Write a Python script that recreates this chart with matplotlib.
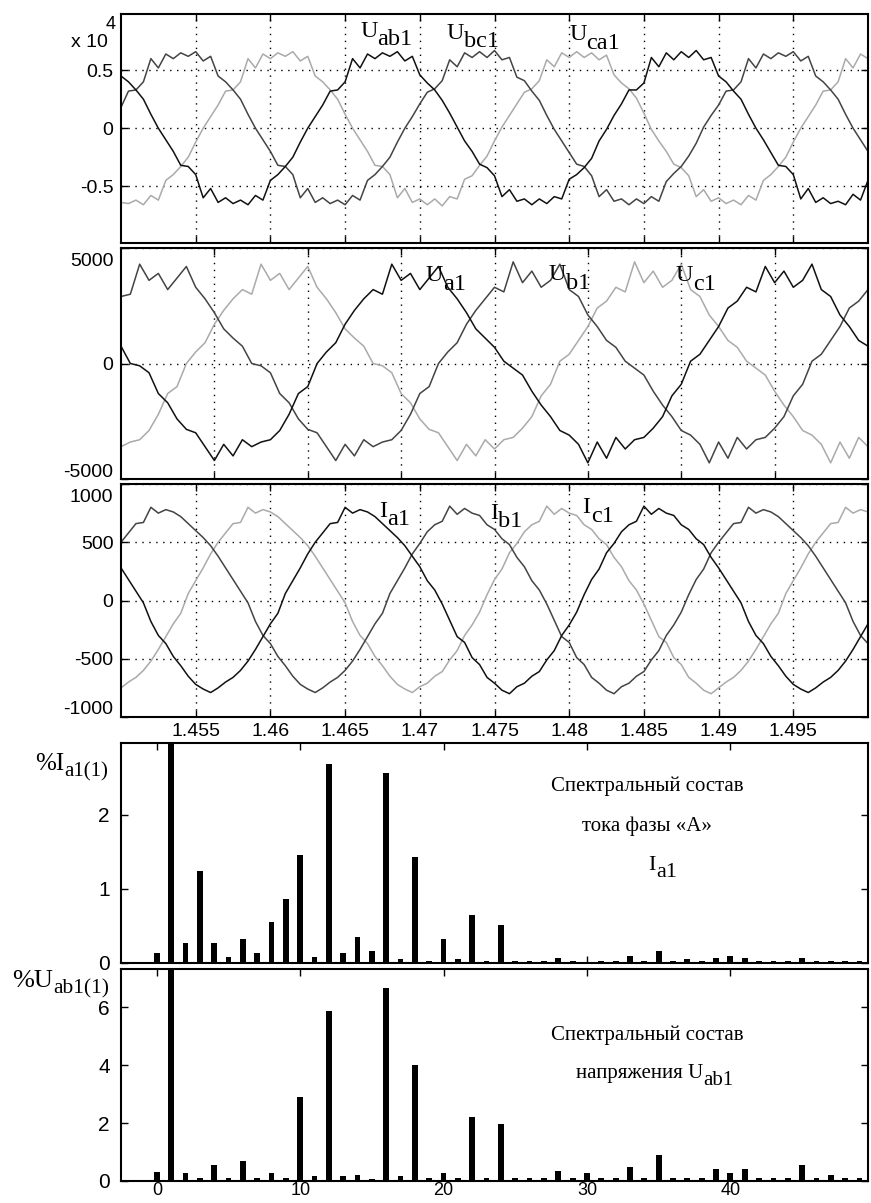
import numpy as np
import matplotlib
matplotlib.use('Agg')
import matplotlib.pyplot as plt
from matplotlib import transforms

SANS = 'Liberation Sans'
SERIF = 'Liberation Serif'
plt.rcParams['font.family'] = [SANS, 'DejaVu Sans']

# ---- data ----
# line voltages, V, sampled every 0.5 ms from 1.450 s
t_u = 1.45 + 0.0005 * np.arange(101)
u_ab = [4500, 4000, 3300, 2500, 1200, 0, -1000, -2000, -3200, -3300, -4000, -6000, -5200, -6400, -6000, -6500, -6200, -6600, -5800, -6200,
        -4500, -4000, -3300, -2500, -1200, 0, 1000, 2000, 3200, 3300, 4000, 6000, 5200, 6400, 6000, 6500, 6200, 6600, 5800, 6200,
        4600, 3900, 3300, 2400, 1300, 100, -1100, -2000, -3100, -3400, -4100, -5900, -5300, -6300, -6100, -6600, -6100, -6500, -5900, -6100,
        -4400, -4000, -3400, -2600, -1100, -100, 1100, 2100, 3300, 3300, 3900, 6100, 5300, 6500, 5900, 6600, 6100, 6700, 5900, 6100,
        4500, 4000, 3200, 2500, 1200, 0, -1000, -2100, -3200, -3300, -4000, -6100, -5200, -6400, -6000, -6500, -6300, -6600, -5700, -6200, -4500]
u_bc = [1800, 3200, 3300, 4000, 6000, 5200, 6400, 6000, 6500, 6200, 6600, 5800, 6200, 4500, 4000, 3300, 2500, 1200, 0, -1000,
        -2000, -3200, -3300, -4000, -6000, -5200, -6400, -6000, -6500, -6200, -6600, -5800, -6200, -4500, -4000, -3300, -2500, -1200, 0, 1000,
        2100, 3100, 3400, 4100, 5900, 5300, 6500, 6100, 6600, 6100, 6700, 5900, 6100, 4400, 4100, 3200, 2400, 1100, -100, -1100,
        -2100, -3100, -3300, -4100, -5900, -5300, -6300, -6100, -6600, -6100, -6500, -5900, -6300, -4600, -3900, -3300, -2400, -1300, 100, 1100,
        2000, 3200, 3300, 4000, 6000, 5200, 6400, 6000, 6500, 6200, 6600, 5800, 6200, 4500, 4000, 3300, 2500, 1200, 0, -1000, -2000]
u_ca = [-6400, -6500, -6200, -6600, -5800, -6200, -4500, -4000, -3300, -2500, -1200, 0, 1000, 2000, 3200, 3300, 4000, 6000, 5200, 6400,
        6000, 6500, 6200, 6600, 5800, 6200, 4500, 4000, 3300, 2500, 1200, 0, -1000, -2000, -3200, -3300, -4000, -6000, -5200, -6400,
        -6100, -6600, -6100, -6700, -5900, -6100, -4400, -4100, -3200, -2400, -1100, 100, 1100, 2100, 3100, 3400, 4100, 5900, 5300, 6500,
        6100, 6600, 6100, 6500, 5900, 6300, 4600, 3900, 3400, 2600, 1300, -100, -1100, -2000, -3100, -3400, -4100, -5900, -5300, -6300,
        -6000, -6500, -6200, -6600, -5800, -6200, -4500, -4000, -3300, -2500, -1200, 0, 1000, 2000, 3200, 3300, 4000, 6000, 5200, 6400, 6000]

# phase voltages, V, sampled every 0.5 ms over the 40 ms window of panel 2
t_ph = 1.46 + 0.0005 * np.arange(81)
u_a = [750, 0, -100, -400, -1300, -1700, -2400, -2850, -3000, -3600, -4200, -3500, -4000, -3300, -3600, -3400, -3300, -2900, -2200, -1300,
       -1000, 0, 500, 900, 1700, 2300, 2800, 3200, 3000, 4300, 3600, 3900, 3200, 3700, 4200, 3300, 2800, 2200, 1500, 1100,
       700, 100, -200, -500, -1200, -1800, -2300, -2900, -3100, -3500, -4300, -3400, -4100, -3200, -3700, -3300, -3200, -2800, -2300, -1400,
       -900, 100, 400, 1000, 1600, 2400, 2700, 3300, 3100, 4200, 3500, 4000, 3300, 3600, 4300, 3200, 2900, 2100, 1600, 1000, 750]
u_b = [2900, 3000, 4300, 3600, 3900, 3200, 3700, 4200, 3300, 2800, 2200, 1500, 1100, 750, 0, -100, -400, -1300, -1700, -2400,
       -2850, -3000, -3600, -4200, -3500, -4000, -3300, -3600, -3400, -3300, -2900, -2200, -1300, -1000, 0, 500, 900, 1700, 2300, 2800,
       3300, 3100, 4400, 3500, 4000, 3300, 3600, 4300, 3200, 2900, 2100, 1600, 1000, 700, 100, -200, -500, -1200, -1800, -2300,
       -2900, -3100, -3500, -4300, -3400, -4100, -3200, -3700, -3300, -3200, -2800, -2300, -1400, -900, 100, 400, 1000, 1600, 2400, 2700, 3200]
u_c = [-3600, -3400, -3300, -2900, -2200, -1300, -1000, 0, 500, 900, 1700, 2300, 2800, 3200, 3000, 4300, 3600, 3900, 3200, 3700,
       4200, 3300, 2800, 2200, 1500, 1100, 750, 0, -100, -400, -1300, -1700, -2400, -2850, -3000, -3600, -4200, -3500, -4000, -3300,
       -3700, -3300, -3200, -2800, -2300, -1400, -900, 100, 400, 1000, 1600, 2400, 2700, 3300, 3100, 4400, 3500, 4000, 3300, 3600,
       4300, 3200, 2900, 2100, 1600, 1000, 700, 100, -200, -500, -1200, -1800, -2300, -2900, -3100, -3500, -4300, -3400, -4100, -3200, -3600]

# phase currents, A, every 0.5 ms from 1.450 s
t_i = 1.45 + 0.0005 * np.arange(101)
i_a = [280, 180, 80, -20, -180, -300, -370, -480, -560, -650, -720, -760, -790, -750, -700, -660, -600, -520, -420, -310,
       -200, -110, 60, 170, 280, 400, 500, 580, 660, 670, 800, 750, 780, 760, 720, 660, 600, 540, 470, 380,
       290, 170, 90, -30, -170, -310, -360, -490, -550, -660, -710, -770, -800, -740, -710, -650, -610, -510, -430, -300,
       -210, -100, 50, 180, 270, 410, 490, 590, 650, 680, 810, 740, 790, 750, 730, 650, 610, 530, 480, 370,
       280, 180, 80, -20, -180, -300, -370, -480, -560, -650, -720, -760, -790, -750, -700, -660, -600, -520, -420, -310, -200]
i_b = [500, 580, 660, 670, 800, 750, 780, 760, 720, 660, 600, 540, 470, 380, 280, 180, 80, -20, -180, -300,
       -370, -480, -560, -650, -720, -760, -790, -750, -700, -660, -600, -520, -420, -310, -200, -110, 60, 170, 280, 400,
       490, 590, 650, 680, 810, 740, 790, 750, 730, 650, 610, 530, 480, 370, 290, 170, 90, -30, -170, -310,
       -360, -490, -550, -660, -710, -770, -800, -740, -710, -650, -610, -510, -430, -300, -210, -100, 50, 180, 270, 410,
       500, 580, 660, 670, 800, 750, 780, 760, 720, 660, 600, 540, 470, 380, 280, 180, 80, -20, -180, -300, -370]
i_c = [-750, -700, -660, -600, -520, -420, -310, -200, -110, 60, 170, 280, 400, 500, 580, 660, 670, 800, 750, 780,
       760, 720, 660, 600, 540, 470, 380, 280, 180, 80, -20, -180, -300, -370, -480, -560, -650, -720, -760, -790,
       -740, -710, -650, -610, -510, -430, -300, -210, -100, 50, 180, 270, 410, 490, 590, 650, 680, 810, 740, 790,
       750, 730, 650, 610, 530, 480, 370, 290, 170, 90, -30, -170, -310, -360, -490, -550, -660, -710, -770, -800,
       -750, -700, -660, -600, -520, -420, -310, -200, -110, 60, 170, 280, 400, 500, 580, 660, 670, 800, 750, 780, 760]

# spectra, % of fundamental, harmonics 0..49
harm = np.arange(50)
spec_ia = [0.13, 100, 0.27, 1.24, 0.27, 0.08, 0.32, 0.13, 0.56, 0.86, 1.46, 0.08, 2.69, 0.13, 0.35, 0.16, 2.56, 0.05, 1.43, 0.03,
           0.32, 0.05, 0.65, 0.03, 0.51, 0.03, 0.03, 0.03, 0.07, 0.03, 0.0, 0.03, 0.03, 0.10, 0.03, 0.16, 0.03, 0.05, 0.03, 0.07,
           0.10, 0.07, 0.03, 0.03, 0.03, 0.07, 0.03, 0.03, 0.03, 0.03]
spec_uab = [0.30, 100, 0.29, 0.09, 0.56, 0.09, 0.68, 0.09, 0.29, 0.09, 2.89, 0.16, 5.89, 0.16, 0.22, 0.06, 6.69, 0.16, 4.02, 0.09,
            0.29, 0.09, 2.22, 0.09, 1.96, 0.09, 0.09, 0.09, 0.36, 0.09, 0.29, 0.09, 0.09, 0.48, 0.09, 0.89, 0.09, 0.09, 0.09, 0.42,
            0.29, 0.42, 0.09, 0.09, 0.09, 0.56, 0.09, 0.22, 0.09, 0.09]

time_ticks = [1.455, 1.46, 1.465, 1.47, 1.475, 1.48, 1.485, 1.49, 1.495]
time_labels = ['1.455', '1.46', '1.465', '1.47', '1.475', '1.48', '1.485', '1.49', '1.495']
ph_ticks = [1.465, 1.47, 1.475, 1.48, 1.485, 1.49, 1.495]
harm_ticks = [0, 10, 20, 30, 40]

C_A, C_B, C_C = '#111111', '#444444', '#aaaaaa'

W, H = 871, 1203
fig = plt.figure(figsize=(W / 100, H / 100), dpi=100)


def box(top, bottom, left=121, right=868):
    return [left / W, 1 - bottom / H, (right - left) / W, (bottom - top) / H]


def frame(ax, size=14, ypad=5.5):
    for s in ax.spines.values():
        s.set_linewidth(1.5)
    ax.tick_params(direction='in', length=5, width=1, top=True, right=True,
                   labelsize=size, pad=4)
    ax.tick_params(axis='y', pad=ypad)


def grid(ax):
    ax.grid(True, color='k', linestyle=(0, (1, 4)), linewidth=1.0)


def sub_text(ax, x, y, main, sub, size=17.5, subsize=None, dy=-6, trans=None):
    subsize = subsize or size
    trans = trans or ax.transData
    t = ax.text(x, y, main, fontsize=size, family=SERIF, va='baseline', transform=trans)
    w = t.get_window_extent(fig.canvas.get_renderer()).width * 72 / fig.dpi
    off = transforms.offset_copy(trans, fig=fig, x=w, y=dy, units='points')
    ax.text(x, y, sub, fontsize=subsize, family=SERIF, va='baseline', transform=off)


def edge_label(ax, y, text, dy, size=14):
    ax.annotate(text, xy=(0, y), xycoords=ax.get_yaxis_transform(), xytext=(-5.5, dy),
                textcoords='offset points', ha='right', va='center', fontsize=size)


# ---- panel 1: line voltages ----
ax1 = fig.add_axes(box(14, 243))
ax1.plot(t_u, u_ca, color=C_C, lw=1.1)
ax1.plot(t_u, u_bc, color=C_B, lw=1.1)
ax1.plot(t_u, u_ab, color=C_A, lw=1.1)
ax1.set_xlim(1.45, 1.5)
ax1.set_ylim(-9900, 9850)
ax1.set_xticks(time_ticks)
ax1.set_xticklabels([])
ax1.set_yticks([-5000, 0, 5000])
ax1.set_yticklabels(['-0.5', '0', '0.5'])
frame(ax1)
grid(ax1)
fig.text(71 / W, 1 - 47 / H, 'x 10', fontsize=14, va='baseline')
fig.text(106 / W, 1 - 29 / H, '4', fontsize=13, va='baseline')
sub_text(ax1, 1.4660, 7870, 'U', 'ab1')
sub_text(ax1, 1.4718, 7730, 'U', 'bc1')
sub_text(ax1, 1.4800, 7590, 'U', 'ca1')

# ---- panel 2: phase voltages ----
ax2 = fig.add_axes(box(248, 479))
ax2.plot(t_ph, u_c, color=C_C, lw=1.1)
ax2.plot(t_ph, u_b, color=C_B, lw=1.1)
ax2.plot(t_ph, u_a, color=C_A, lw=1.1)
ax2.set_xlim(1.46, 1.5)
ax2.set_ylim(-5000, 5000)
ax2.set_xticks(ph_ticks)
ax2.set_xticklabels([])
ax2.set_yticks([-5000, 0, 5000])
ax2.set_yticklabels(['', '0', ''])
frame(ax2)
grid(ax2)
edge_label(ax2, 5000, '5000', -9.5)
edge_label(ax2, -5000, '-5000', 4.5)
sub_text(ax2, 1.4763, 3560, 'U', 'a1')
sub_text(ax2, 1.4829, 3600, 'U', 'b1')
sub_text(ax2, 1.4897, 3560, 'U', 'c1')

# ---- panel 3: phase currents ----
ax3 = fig.add_axes(box(484, 717))
ax3.plot(t_i, i_c, color=C_C, lw=1.1)
ax3.plot(t_i, i_b, color=C_B, lw=1.1)
ax3.plot(t_i, i_a, color=C_A, lw=1.1)
ax3.set_xlim(1.45, 1.5)
ax3.set_ylim(-1000, 1000)
ax3.set_xticks(time_ticks)
ax3.set_xticklabels(time_labels)
ax3.set_yticks([-1000, -500, 0, 500, 1000])
ax3.set_yticklabels(['', '-500', '0', '500', ''])
frame(ax3)
grid(ax3)
edge_label(ax3, 1000, '1000', -9.5)
edge_label(ax3, -1000, '-1000', 5.3)
sub_text(ax3, 1.4673, 720, 'I', 'a1')
sub_text(ax3, 1.4747, 700, 'I', 'b1')
sub_text(ax3, 1.4809, 748, 'I', 'c1')

# ---- panel 4: current spectrum ----
ax4 = fig.add_axes(box(743, 963))
ax4.bar(harm, spec_ia, width=0.4, color='k')
ax4.set_xlim(-2.5, 49.6)
ax4.set_ylim(0, 2.97)
ax4.set_xticks(harm_ticks)
ax4.set_xticklabels([])
ax4.set_yticks([0, 1, 2])
frame(ax4, size=15, ypad=8)
sub_text(ax4, -8.5, 2.61, '%I', 'a1(1)', size=18, subsize=15, dy=-5)
ax4.text(34.2, 2.38, 'Спектральный состав', family=SERIF, fontsize=15, ha='center', va='center')
ax4.text(34.2, 1.85, 'тока фазы «А»', family=SERIF, fontsize=15, ha='center', va='center')
sub_text(ax4, 34.3, 1.25, 'I', 'a1', size=16, dy=-5)

# ---- panel 5: voltage spectrum ----
ax5 = fig.add_axes(box(969, 1181))
ax5.bar(harm, spec_uab, width=0.4, color='k')
ax5.set_xlim(-2.5, 49.6)
ax5.set_ylim(0, 7.33)
ax5.set_xticks(harm_ticks)
ax5.set_yticks([0, 2, 4, 6])
frame(ax5, size=15, ypad=8)
ax5.tick_params(axis='x', labelsize=13, pad=0.5)
sub_text(ax5, -10.1, 6.71, '%U', 'ab1(1)', size=19, subsize=15.5, dy=-5)
ax5.text(34.2, 5.04, 'Спектральный состав', family=SERIF, fontsize=15, ha='center', va='center')
sub_text(ax5, 29.2, 3.55, 'напряжения U', 'ab1', size=15, dy=-5)

fig.savefig('out.png', dpi=100)
